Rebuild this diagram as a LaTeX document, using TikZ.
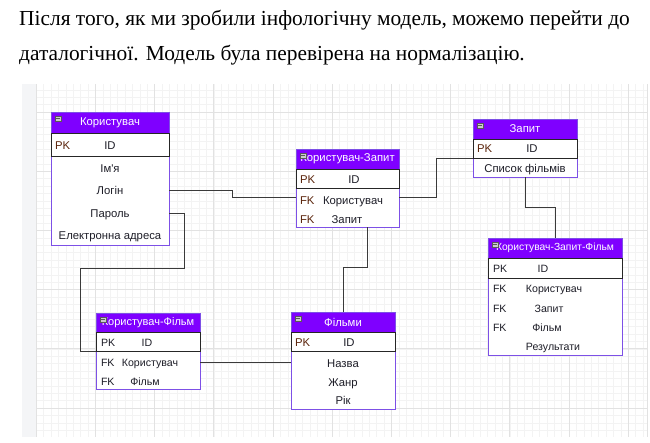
\documentclass[tikz,border=0pt]{standalone}
\usepackage{fontspec}
\setmainfont{Liberation Serif}
\newfontfamily\tabfont{Liberation Sans}
\usetikzlibrary{calc}
\definecolor{hdr}{RGB}{127,0,255}
\definecolor{tborder}{RGB}{125,80,230}
\definecolor{conncol}{RGB}{58,58,58}
\definecolor{keycol}{RGB}{90,35,10}
\definecolor{valcol}{RGB}{30,30,40}
\definecolor{gminor}{RGB}{243,243,243}
\definecolor{gmajor}{RGB}{226,226,226}
\definecolor{stripcol}{RGB}{244,245,247}

\newcommand\ertab[9]{%
  \pgfmathsetmacro\tw{#3-#2}%
  \pgfmathsetmacro\th{#5-#4}%
  \pgfmathsetmacro\tp{#6-#5}%
  \pgfmathsetmacro\tb{#7-#4}%
  \node[tabbody, minimum width=\tw pt, minimum height=\tb pt, anchor=north west] (#1) at (#2,#4) {};
  \node[tabhead, minimum width=\tw pt, minimum height=\th pt, anchor=north west, font=\tabfont\fontsize{#9}{13}\selectfont] (#1-h) at (#2,#4) {#8};
  \node[pkrow, minimum width=\tw pt, minimum height=\tp pt, anchor=north west] (#1-pk) at (#2,#5) {};
  \node[minusbox, anchor=north west] (#1-m) at ($(#2,#4)+(4,4)$) {};
  \draw[black!65, line width=0.7pt] ($(#1-m.west)+(1.2,0)$) -- ($(#1-m.east)+(-1.2,0)$);
}

\begin{document}
\begin{tikzpicture}[x=1pt,y=-1pt,
  tabbody/.style={draw=tborder, line width=1pt, fill=white, inner sep=0, outer sep=0},
  tabhead/.style={draw=tborder, line width=1pt, fill=hdr, text=white, inner sep=0, outer sep=0},
  pkrow/.style={draw=black!85, line width=1pt, inner sep=0, outer sep=0},
  cell/.style={inner sep=0, outer sep=0, text height=8pt, text depth=0pt, font=\tabfont\fontsize{11.3}{13}\selectfont, text=valcol},
  smallcell/.style={cell, font=\tabfont\fontsize{10.6}{13}\selectfont},
  keycell/.style={cell, text=keycol, anchor=west},
  connector/.style={draw=conncol, line width=1pt},
  minusbox/.style={draw=gray!70!black, fill=gray!40, line width=0.4pt, minimum width=6pt, minimum height=5pt, inner sep=0},
  bodytext/.style={anchor=base west, inner sep=0, font=\fontsize{21.4}{25}\selectfont},
  gridminor/.style={draw=gminor, line width=0.6pt},
  gridmajor/.style={draw=gmajor, line width=0.8pt}
]
\useasboundingbox (0,0) rectangle (650,442);
\fill[white] (0,0) rectangle (650,442);

% canvas
\fill[stripcol] (22,84) rectangle (36,437);
\foreach \i in {0,...,82} {
  \pgfmathsetmacro\xx{36.2+7.4*\i}
  \draw[gridminor] (\xx,84) -- (\xx,437);
}
\foreach \i in {-3,...,43} {
  \pgfmathsetmacro\yy{112+7.4*\i}
  \draw[gridminor] (36,\yy) -- (647,\yy);
}
\foreach \i in {0,...,10} {
  \pgfmathsetmacro\xx{36.2+59.2*\i}
  \draw[gridmajor] (\xx,84) -- (\xx,437);
}
\foreach \i in {0,...,5} {
  \pgfmathsetmacro\yy{112+59.2*\i}
  \draw[gridmajor] (36,\yy) -- (647,\yy);
}
\draw[gmajor, line width=1pt] (647.5,84) -- (647.5,437);

% text
\node[bodytext] (t1) at (19,25) {Після того, як ми зробили інфологічну модель, можемо перейти до};
\node[bodytext] (t2) at (19,60) {даталогічної. Модель була перевірена на нормалізацію.};

% tables
\ertab{kor}{51}{169}{112}{133}{156}{245}{Користувач}{11.3}
\node[keycell] (kor-pkl) at (55,145) {PK};
\node[cell] (kor-id) at (110,145) {ID};
\node[cell] (kor-name) at (110,168) {Ім'я};
\node[cell] (kor-login) at (110,190) {Логін};
\node[cell] (kor-pass) at (110,213) {Пароль};
\node[cell] (kor-mail) at (110,235) {Електронна адреса};

\ertab{kz}{296}{399}{149}{169}{188}{227}{Користувач-Запит}{11.3}
\node[keycell] (kz-pkl) at (300,179) {PK};
\node[cell] (kz-id) at (354,179) {ID};
\node[keycell] (kz-fk1l) at (300,200) {FK};
\node[cell] (kz-fk1) at (353,200) {Користувач};
\node[keycell] (kz-fk2l) at (300,219) {FK};
\node[cell] (kz-fk2) at (347,219) {Запит};

\ertab{zap}{473}{577}{119}{139}{158}{177}{Запит}{11.3}
\node[keycell] (zap-pkl) at (477,148) {PK};
\node[cell] (zap-id) at (532,148) {ID};
\node[cell] (zap-list) at (525,168) {Список фільмів};

\ertab{kzf}{488}{622}{238}{258}{278}{355}{Користувач-Запит-Фільм}{10.3}
\node[keycell, smallcell, anchor=west] (kzf-pkl) at (493,268) {PK};
\node[smallcell] (kzf-id) at (543,268) {ID};
\node[keycell, smallcell, anchor=west] (kzf-fk1l) at (493,288) {FK};
\node[smallcell] (kzf-fk1) at (554,288) {Користувач};
\node[keycell, smallcell, anchor=west] (kzf-fk2l) at (493,308) {FK};
\node[smallcell] (kzf-fk2) at (549,308) {Запит};
\node[keycell, smallcell, anchor=west] (kzf-fk3l) at (493,327) {FK};
\node[smallcell] (kzf-fk3) at (547,327) {Фільм};
\node[smallcell] (kzf-res) at (553,346) {Результати};

\ertab{kf}{96}{200}{313}{332}{351}{389}{Користувач-Фільм}{11}
\node[keycell, smallcell, anchor=west] (kf-pkl) at (101,342) {PK};
\node[smallcell] (kf-id) at (147,342) {ID};
\node[keycell, smallcell, anchor=west] (kf-fk1l) at (101,362) {FK};
\node[smallcell] (kf-fk1) at (150,362) {Користувач};
\node[keycell, smallcell, anchor=west] (kf-fk2l) at (101,381) {FK};
\node[smallcell] (kf-fk2) at (145,381) {Фільм};

\ertab{film}{291}{395}{312}{332}{351}{409}{Фільми}{11.3}
\node[keycell] (film-pkl) at (295,342) {PK};
\node[cell] (film-id) at (349,342) {ID};
\node[cell] (film-name) at (343,363) {Назва};
\node[cell] (film-genre) at (343,382) {Жанр};
\node[cell] (film-year) at (343,400) {Рік};

% connectors
\coordinate (kzl) at ($(kz.west |- kz-fk1)+(0,-3)$);
\coordinate (kzr) at ($(kz.east |- kz-fk1)+(0,-3)$);
\draw[connector] (kor.east |- kor-login) -- ++(63,0) |- (kzl);
\draw[connector] (kor.east |- kor-pass) -- ++(15,0) -- ++(0,55)
  -| ($(kf-pk.south west)+(-16,0)$) -- (kf-pk.south west);
\draw[connector] (kzr) -- ++(37,0) |- (zap-pk.south west);
\draw[connector] ($(kz.south)+(20,0)$) -- ++(0,40) -| (film.north);
\draw[connector] (zap.south) -- ++(0,30) -| (kzf.north);
\draw[connector] (kf.east |- kf-fk1) -- (film.west |- kf-fk1);
\end{tikzpicture}
\end{document}
